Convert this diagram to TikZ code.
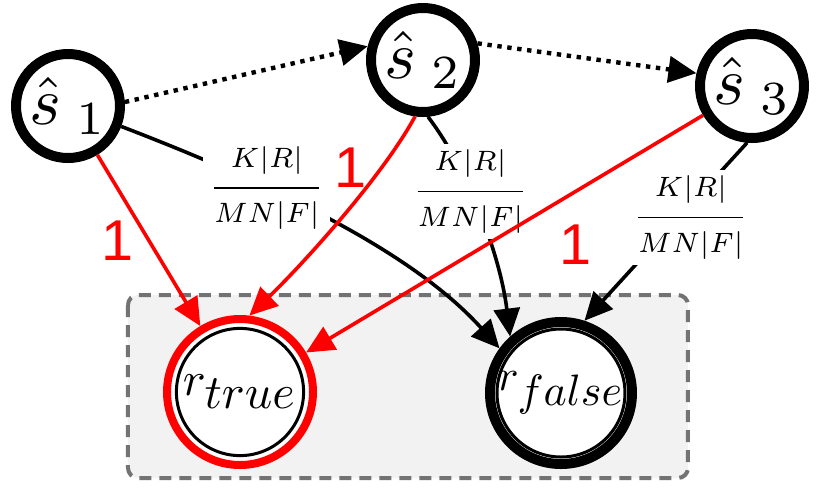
\documentclass[tikz,border=0pt]{standalone}
\usepackage{amsmath}
\usepackage{graphicx}
\usepackage{fontspec}
\newfontfamily\labelsans{Liberation Sans}
\usetikzlibrary{arrows.meta}

% weight of a wrong transition
\newcommand{\kfrac}{$\dfrac{K|R|\rule[-4pt]{0pt}{4pt}}{\rule{0pt}{7.5pt}MN|F|}$}

\tikzset{
  estimate/.style={circle, draw, line width=2.5pt, minimum size=26pt, inner sep=0pt},
  outcome/.style={circle, draw, fill=white, minimum size=36.5pt, inner sep=0pt},
  ring/.style={line width=.75pt},
  link/.style={line width=.9pt, -{Triangle[length=7pt, width=6.5pt]}},
  hop/.style={link, line width=1.1pt, dash pattern=on 1.1pt off 1.4pt},
  weight/.style={fill=white, font=\scriptsize, inner sep=1.5pt},
  one/.style={text=red, font=\labelsans\Large},
  panel/.style={draw=black!55, fill=black!5, line width=1pt, dash pattern=on 3pt off 2pt, rounded corners=2.5pt}
}

\begin{document}
\begin{tikzpicture}[x=0.25pt, y=-0.25pt]
  \useasboundingbox (0,0) rectangle (817,496);
  % Box round the two rewards
  \draw[panel] (128,295) rectangle (688,478);
  % Estimated states
  \node[estimate] (s1) at (68,106) {\scalebox{1.7}{$\hat{s}_{\;1}$}};
  \node[estimate] (s2) at (423,60) {\scalebox{1.7}{$\hat{s}_{\;2}$}};
  \node[estimate] (s3) at (752,86) {\scalebox{1.7}{$\hat{s}_{\;3}$}};
  % Rewards
  \node[outcome, draw=red, line width=2pt] (rt) at (240,392) {\scalebox{1.2}{$r_{\textstyle true}$}};
  \node[outcome, line width=2.5pt, minimum size=35.5pt] (rf) at (561,393) {\scalebox{1.1}{$r_{\textstyle false}$}};
  \draw[ring] (rt.center) circle[radius=15.9pt];
  \draw[ring] (rf.center) circle[radius=16pt];
  % Chain between the estimates
  \draw[hop] (s1.4) -- (s2.166);
  \draw[hop] (s2.17) -- (s3.167);
  % Wrong reward
  \draw[link] (s1) .. controls (300,195) and (420,260) .. (rf.144)
    node[weight, pos=.3] (w1) {\kfrac};
  \draw[link] (s2.-85) .. controls (466,166) and (500,253) .. (rf.132)
    node[weight, pos=.4] (w2) {\kfrac};
  \draw[link] (s3.-95) -- (rf.72)
    node[weight, pos=.42, xshift=3pt] (w3) {\kfrac};
  % True reward
  \draw[link, red] (s1) -- (rt) node[one, midway, left] (o1) {1};
  \draw[link, red] (s2.-98) .. controls (381,179) and (299,268) .. (rt.83)
    node[one, pos=.25, left] (o2) {1};
  \draw[link, red] (s3) -- (rt) node[one, pos=.4, below right] (o3) {1};
\end{tikzpicture}
\end{document}
